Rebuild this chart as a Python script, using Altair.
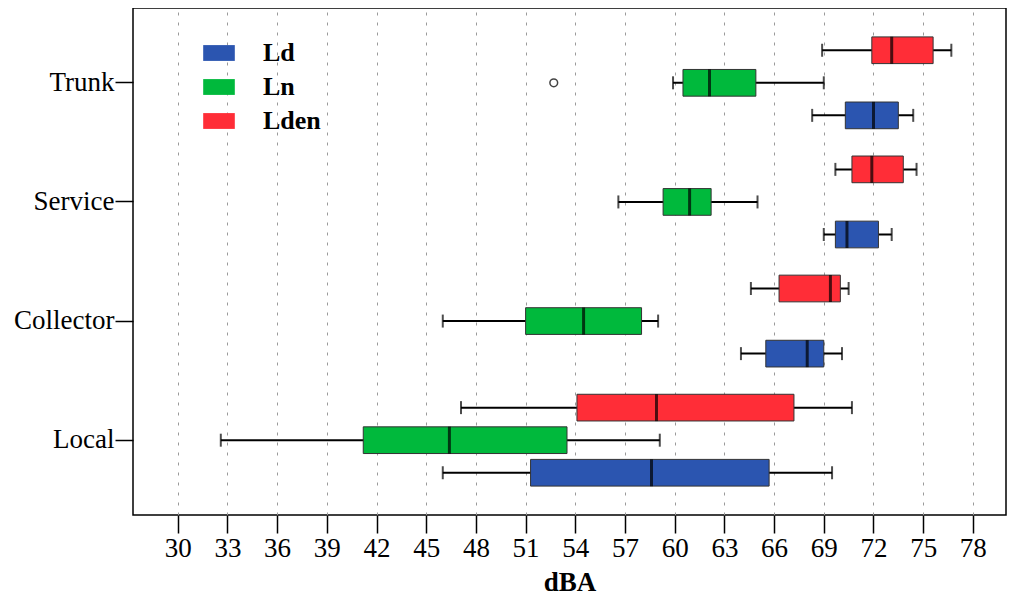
import altair as alt
import pandas as pd

cats = ["Trunk", "Service", "Collector", "Local"]
series_legend = ["Ld", "Ln", "Lden"]
series_stack = ["Lden", "Ln", "Ld"]
colors = ["#2B55B0", "#00B93C", "#FF2D37"]

# five-number summaries per road type (Trunk, Service, Collector, Local)
ld_min = [68.3, 69.0, 64.0, 46.0]
ld_q1 = [70.3, 69.7, 65.5, 51.3]
ld_med = [72.0, 70.4, 68.0, 58.6]
ld_q3 = [73.5, 72.3, 69.0, 65.7]
ld_max = [74.4, 73.1, 70.1, 69.5]

ln_min = [59.9, 56.6, 46.0, 32.6]
ln_q1 = [60.5, 59.3, 51.0, 41.2]
ln_med = [62.1, 60.9, 54.5, 46.4]
ln_q3 = [64.9, 62.2, 58.0, 53.5]
ln_max = [69.0, 65.0, 59.0, 59.1]

lden_min = [68.9, 69.7, 64.6, 47.1]
lden_q1 = [71.9, 70.7, 66.3, 54.1]
lden_med = [73.1, 71.9, 69.4, 58.9]
lden_q3 = [75.6, 73.8, 70.0, 67.2]
lden_max = [76.7, 74.6, 70.5, 70.7]

outlier_cat = ["Trunk"]
outlier_series = ["Ln"]
outlier_val = [52.7]

x_ticks = list(range(30, 79, 3))

stats = {
    "Ld": (ld_min, ld_q1, ld_med, ld_q3, ld_max),
    "Ln": (ln_min, ln_q1, ln_med, ln_q3, ln_max),
    "Lden": (lden_min, lden_q1, lden_med, lden_q3, lden_max),
}
rows = []
for s, (mn, q1, md, q3, mx) in stats.items():
    for i, c in enumerate(cats):
        rows.append(dict(cat=c, series=s, lo=mn[i], q1=q1[i], med=md[i], q3=q3[i], hi=mx[i]))
df = pd.DataFrame(rows)
odf = pd.DataFrame(dict(cat=outlier_cat, series=outlier_series, val=outlier_val))

FONT = "Liberation Serif"
xscale = alt.Scale(domain=[27.3, 80], nice=False, zero=False)
xaxis = alt.Axis(values=x_ticks, title="dBA", grid=True, gridDash=[3, 7], gridColor="#9a9a9a",
                 gridWidth=1, tickSize=18, tickColor="black", tickWidth=1.5, labelPadding=2,
                 labelFontSize=27, labelFont=FONT, labelColor="black", titleFont=FONT,
                 titleFontSize=27, titleFontWeight="bold", titleColor="black", titlePadding=8,
                 domain=False, labelFlush=False)
yenc = alt.Y("cat:N", sort=cats, scale=alt.Scale(paddingInner=0.18, paddingOuter=0.218),
             axis=alt.Axis(title=None, grid=False, tickSize=18, tickColor="black", tickWidth=1.5,
                           labelPadding=1, labelFontSize=27, labelFont=FONT, labelColor="black",
                           domain=False))
yoff = alt.YOffset("series:N", sort=series_stack,
                   scale=alt.Scale(paddingInner=0.18, paddingOuter=0.09))

base = alt.Chart(df).encode(y=yenc, yOffset=yoff)

whisker = base.mark_rule(color="black", strokeWidth=2).encode(
    x=alt.X("lo:Q", scale=xscale, axis=xaxis), x2="hi:Q")
box = base.mark_bar(stroke="#333333", strokeWidth=1, opacity=1).encode(
    x=alt.X("q1:Q", scale=xscale), x2="q3:Q",
    color=alt.Color("series:N", scale=alt.Scale(domain=series_legend, range=colors),
                    legend=alt.Legend(title=None, orient="none", legendX=70, legendY=29,
                                      symbolType="M-1,-0.5H1V0.5H-1Z", symbolSize=1000,
                                      symbolStrokeWidth=0, labelFont=FONT, labelFontSize=26,
                                      labelFontWeight="bold", labelColor="black",
                                      labelOffset=28, rowPadding=5, padding=0)))
median = base.mark_tick(color="black", thickness=3, size=27).encode(x=alt.X("med:Q", scale=xscale))
cap_lo = base.mark_tick(color="black", thickness=2, size=13).encode(x=alt.X("lo:Q", scale=xscale))
cap_hi = base.mark_tick(color="black", thickness=2, size=13).encode(x=alt.X("hi:Q", scale=xscale))
out = alt.Chart(odf).mark_point(shape="circle", filled=False, size=60, color="#444444",
                                strokeWidth=1.5, opacity=1).encode(
    x=alt.X("val:Q", scale=xscale), y=yenc, yOffset=yoff)

chart = alt.layer(whisker, box, median, cap_lo, cap_hi, out).properties(
    width=873, height=507, background="white",
    padding={"left": 5, "top": 0, "right": 5, "bottom": 0}
).configure_view(stroke="black", strokeWidth=1.5)

chart.save("out.html", embed_options={"renderer": "svg", "actions": False})
